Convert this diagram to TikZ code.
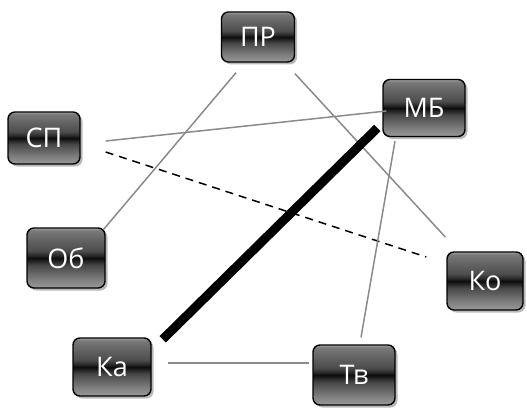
\documentclass[tikz,border=0pt]{standalone}
\usepackage{fontspec}
\setsansfont{Open Sans}
\usetikzlibrary{shadows,calc}
\definecolor{lnk}{HTML}{8A8A8A}
\pgfdeclareverticalshading{metal}{100bp}{%
  color(0bp)=(black!40);
  color(25bp)=(black!40);
  color(32bp)=(black!50);
  color(44bp)=(black!72);
  color(48bp)=(black!88);
  color(50bp)=(black!95);
  color(52bp)=(black!85);
  color(56bp)=(black!70);
  color(68bp)=(black!58);
  color(73bp)=(black!52);
  color(75bp)=(black!35);
  color(100bp)=(black!35)}
\tikzset{
  box/.style={draw=black, line width=1.4pt, rounded corners=7pt,
    shading=metal, minimum width=#1, inner sep=0pt,
    text=white, font=\sffamily\fontsize{27}{27}\selectfont,
    drop shadow={shadow xshift=2.5pt, shadow yshift=-2.5pt, opacity=0.45, fill=black!60}},
  thin link/.style={draw=lnk, line width=1.5pt},
  dash link/.style={draw=black, line width=1.5pt, dash pattern=on 8pt off 6pt},
  heavy link/.style={draw=black, line width=9pt}
}
\begin{document}
\begin{tikzpicture}[x=1pt,y=-1pt]
\useasboundingbox (0,0) rectangle (527,409);
\node[box=73pt, minimum height=50pt] (pr) at (258,37) {ПР};
\node[box=72pt, minimum height=52pt] (sp) at (44,138) {СП};
\node[box=82pt, minimum height=57pt] (mb) at (424,108) {МБ};
\node[box=76pt, minimum height=58pt] (ko) at (485,281) {Ко};
\node[box=78pt, minimum height=58pt] (ka) at (112,367) {Ка};
\node[box=82pt, minimum height=60pt] (tv) at (354,375) {Тв};
\node[box=78pt, minimum height=60pt] (ob) at (66,258) {Об};
\draw[thin link] ($(sp.east)+(25,3)$) -- ($(mb.west)+(4,3)$);
\draw[dash link] ($(sp.east)+(25,14)$) -- ($(ko.west)+(-20,-24)$);
\draw[thin link] ($(pr.south)+(-22,10)$) -- ($(ob.north east)+(-2,2)$);
\draw[thin link] ($(pr.south)+(37,11)$) -- ($(ko.west)+(-1,-44)$);
\draw[thin link] ($(mb.south)+(-29,4)$) -- ($(tv.north)+(7,-7)$);
\draw[heavy link] ($(ka.north east)+(11,2)$) -- ($(mb.west)+(-5,20)$);
\draw[thin link] ($(ka.east)+(16,-4)$) -- ($(tv.west)+(-3,-12)$);
\end{tikzpicture}
\end{document}
